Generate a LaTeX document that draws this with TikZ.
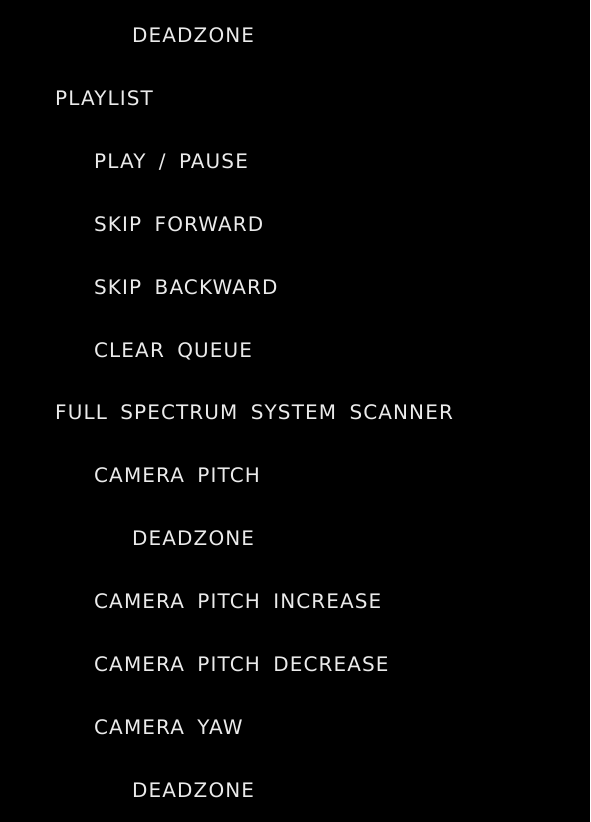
\documentclass[tikz,border=0pt]{standalone}
\usepackage{fontspec}
\setmainfont{DejaVu Sans}[LetterSpace=5.5, WordSpace=1.8]
\usepackage{tikz}
\usetikzlibrary{positioning}
\tikzset{item/.style = {draw=none, inner sep = 0, anchor = base west, text = white!92!black, font = \fontsize{20}{24}\selectfont}}

\begin{document}
\begin{tikzpicture}[x=1pt, y=1pt]
\fill [black] (0, 0) rectangle (590, -822);
\node [item] (dz1) at (132, -42) {DEADZONE};
\node [item] (pl) at (55, -105) {PLAYLIST};
\node [item] (pp) at (94, -168) {PLAY / PAUSE};
\node [item] (sf) at (94, -231) {SKIP FORWARD};
\node [item] (sb) at (94, -294) {SKIP BACKWARD};
\node [item] (cq) at (94, -357) {CLEAR QUEUE};
\node [item] (fs) at (55, -419) {FULL SPECTRUM SYSTEM SCANNER};
\node [item] (cp) at (94, -482) {CAMERA PITCH};
\node [item] (dz2) at (132, -545) {DEADZONE};
\node [item] (cpi) at (94, -608) {CAMERA PITCH INCREASE};
\node [item] (cpd) at (94, -671) {CAMERA PITCH DECREASE};
\node [item] (cy) at (94, -734) {CAMERA YAW};
\node [item] (dz3) at (132, -797) {DEADZONE};
\end{tikzpicture}
\end{document}
